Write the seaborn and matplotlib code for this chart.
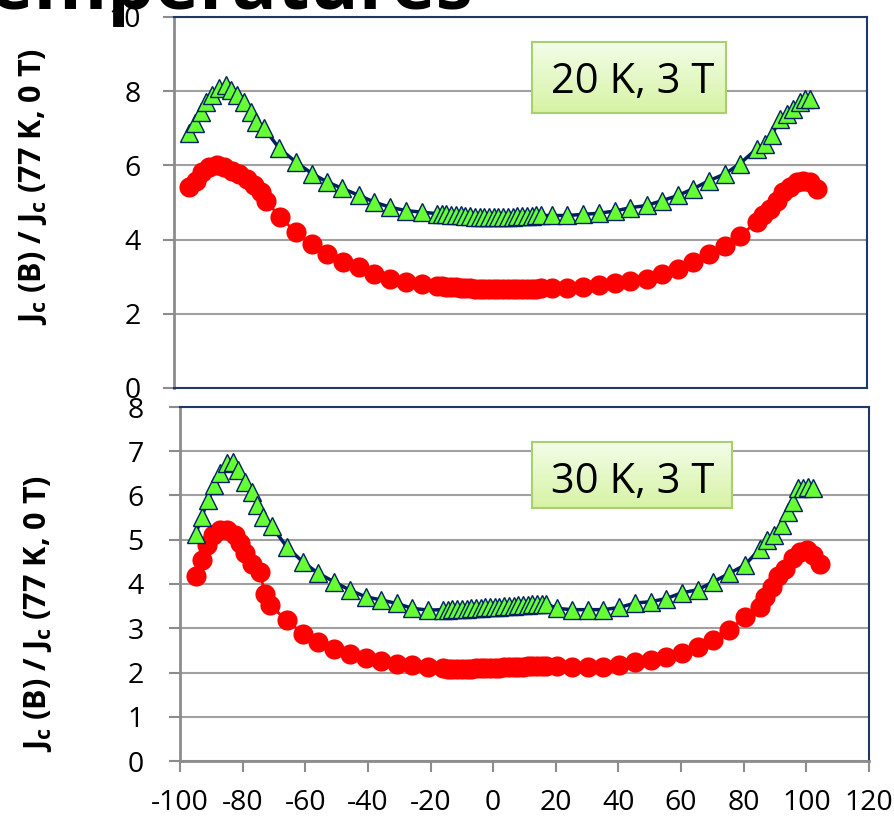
import numpy as np
import seaborn as sns
import matplotlib.pyplot as plt
from matplotlib.patches import Rectangle
from matplotlib.colors import LinearSegmentedColormap

# ---------------- data ----------------
# 20 K, 3 T  -- green triangles
ang_20_tri = [-95.2, -93.3, -91.5, -89.9, -88.0, -85.7, -83.6, -82.0, -80.0, -77.7, -75.6, -74.0,
              -71.4, -66.6, -61.3, -56.2, -51.3, -46.6, -41.2, -36.4, -31.3, -26.3, -21.3,
              -16.5, -15.0, -13.5, -12.0, -10.5, -9.0, -7.5, -6.0, -4.5, -3.0, -1.5, 0.0,
              1.5, 3.0, 4.5, 6.0, 7.5, 9.0, 10.5, 12.0, 13.5, 15.0, 16.5,
              20.0, 24.9, 29.8, 34.8, 39.9, 44.9, 50.0, 55.0, 60.0, 64.8, 69.9, 74.9, 79.7,
              85.0, 87.6, 89.7, 92.4, 94.5, 96.6, 98.7, 100.3, 101.9]
jc_20_tri = [6.86, 7.15, 7.43, 7.70, 7.90, 8.08, 8.16, 8.03, 7.90, 7.70, 7.44, 7.17,
             7.00, 6.46, 6.09, 5.78, 5.55, 5.38, 5.19, 5.01, 4.87, 4.78, 4.74,
             4.70, 4.69, 4.68, 4.67, 4.66, 4.65, 4.64, 4.63, 4.62, 4.62, 4.61, 4.61,
             4.61, 4.61, 4.62, 4.62, 4.62, 4.63, 4.63, 4.64, 4.64, 4.65, 4.65,
             4.65, 4.65, 4.68, 4.71, 4.77, 4.86, 4.92, 5.05, 5.19, 5.37, 5.59, 5.77, 6.05,
             6.45, 6.59, 6.81, 7.26, 7.39, 7.53, 7.71, 7.80, 7.80]

# 20 K, 3 T  -- red circles
ang_20_cir = [-95.2, -93.1, -91.0, -88.9, -86.2, -84.1, -81.5, -79.3, -76.7, -74.6, -72.4, -70.8,
              -66.3, -61.3, -56.2, -51.3, -46.3, -41.2, -36.4, -31.3, -26.3, -21.3,
              -16.5, -15.0, -13.5, -12.0, -10.5, -9.0, -7.5, -6.0, -4.5, -3.0, -1.5, 0.0,
              1.5, 3.0, 4.5, 6.0, 7.5, 9.0, 10.5, 12.0, 13.5, 15.0, 16.5,
              20.0, 24.9, 29.8, 34.8, 39.9, 44.9, 50.0, 55.0, 60.0, 64.8, 69.9, 74.9, 79.7,
              85.0, 87.0, 89.2, 91.3, 93.4, 95.5, 97.7, 99.8, 101.9, 104.0]
jc_20_cir = [5.41, 5.59, 5.82, 5.95, 6.00, 5.95, 5.86, 5.77, 5.64, 5.46, 5.28, 5.05,
             4.60, 4.20, 3.88, 3.61, 3.39, 3.25, 3.07, 2.93, 2.85, 2.80,
             2.75, 2.74, 2.73, 2.72, 2.71, 2.70, 2.69, 2.69, 2.68, 2.68, 2.67, 2.67,
             2.67, 2.67, 2.67, 2.67, 2.67, 2.68, 2.68, 2.68, 2.68, 2.68, 2.69,
             2.69, 2.69, 2.71, 2.78, 2.82, 2.89, 2.93, 3.07, 3.20, 3.39, 3.61, 3.84, 4.11,
             4.47, 4.65, 4.83, 5.05, 5.28, 5.41, 5.55, 5.59, 5.55, 5.37]

# 30 K, 3 T  -- green triangles
ang_30_tri = [-94.9, -93.1, -91.0, -89.0, -87.2, -85.1, -83.0, -81.4, -79.2, -77.1, -75.3, -73.4,
              -70.7, -65.9, -60.8, -55.8, -50.8, -45.7, -40.7, -35.8, -30.8, -25.8, -20.7,
              -16.0, -14.5, -13.0, -11.5, -10.0, -8.5, -7.0, -5.5, -4.0, -2.5, -1.0, 0.5,
              2.0, 3.5, 5.0, 6.5, 8.0, 9.5, 11.0, 12.5, 14.0, 15.5, 17.0,
              20.3, 25.1, 30.2, 35.2, 40.3, 45.3, 50.3, 55.2, 60.2, 65.3, 70.3, 75.4, 80.4,
              85.2, 87.3, 89.7, 92.1, 94.2, 95.8, 97.4, 99.0, 100.6, 102.2]
jc_30_tri = [5.14, 5.52, 5.90, 6.24, 6.50, 6.73, 6.76, 6.58, 6.31, 6.09, 5.79, 5.52,
             5.30, 4.84, 4.50, 4.24, 4.05, 3.86, 3.71, 3.64, 3.56, 3.45, 3.41,
             3.42, 3.42, 3.43, 3.43, 3.44, 3.44, 3.45, 3.45, 3.46, 3.47, 3.47, 3.48,
             3.49, 3.50, 3.50, 3.51, 3.52, 3.52, 3.53, 3.54, 3.54, 3.55, 3.55,
             3.45, 3.42, 3.42, 3.42, 3.47, 3.57, 3.60, 3.67, 3.80, 3.87, 4.05, 4.24, 4.43,
             4.80, 4.99, 5.11, 5.33, 5.63, 5.86, 6.16, 6.16, 6.19, 6.18]

# 30 K, 3 T  -- red circles
ang_30_cir = [-94.9, -93.1, -91.5, -89.4, -87.2, -84.9, -82.4, -80.8, -79.2, -77.1, -74.5, -72.9,
              -71.3, -65.9, -60.8, -55.8, -50.8, -45.7, -40.7, -35.8, -30.8, -25.8, -20.7,
              -16.0, -14.5, -13.0, -11.5, -10.0, -8.5, -7.0, -5.5, -4.0, -2.5, -1.0, 0.5,
              2.0, 3.5, 5.0, 6.5, 8.0, 9.5, 11.0, 12.5, 14.0, 15.5, 17.0,
              20.3, 25.1, 30.2, 35.2, 40.3, 45.3, 50.3, 55.2, 60.2, 65.3, 70.3, 75.4, 80.4,
              85.2, 86.8, 89.0, 91.1, 93.2, 95.8, 98.0, 100.1, 102.2, 104.3]
jc_30_cir = [4.17, 4.54, 4.88, 5.11, 5.22, 5.22, 5.11, 4.92, 4.69, 4.46, 4.27, 3.78,
             3.52, 3.18, 2.88, 2.68, 2.54, 2.42, 2.32, 2.26, 2.20, 2.16, 2.12,
             2.10, 2.09, 2.09, 2.09, 2.09, 2.09, 2.09, 2.10, 2.10, 2.10, 2.11, 2.11,
             2.11, 2.12, 2.12, 2.12, 2.13, 2.13, 2.14, 2.14, 2.14, 2.15, 2.15,
             2.14, 2.12, 2.12, 2.12, 2.16, 2.24, 2.29, 2.35, 2.43, 2.58, 2.73, 2.96, 3.26,
             3.49, 3.71, 3.94, 4.17, 4.35, 4.58, 4.73, 4.77, 4.66, 4.46]

x_ticks = [-100, -80, -60, -40, -20, 0, 20, 40, 60, 80, 100, 120]
y_ticks_top = [0, 2, 4, 6, 8, 10]
y_ticks_bot = [0, 1, 2, 3, 4, 5, 6, 7, 8]
box_labels = ['20 K, 3 T', '30 K, 3 T']
ylab = r'J$_{\mathbf{c}}$ (B) / J$_{\mathbf{c}}$ (77 K, 0 T)'

# ---------------- style ----------------
sns.set_style('white')
plt.rcParams['font.family'] = ['Open Sans', 'DejaVu Sans']
plt.rcParams['mathtext.fontset'] = 'custom'
plt.rcParams['mathtext.rm'] = 'Open Sans:bold'
plt.rcParams['mathtext.bf'] = 'Open Sans:bold'
plt.rcParams['mathtext.it'] = 'Open Sans:bold'
plt.rcParams['text.color'] = 'black'
plt.rcParams['axes.labelcolor'] = 'black'

NAVY = '#1f3864'
GRID = '#a0a0a0'
AXIS = '#8c8c8c'
box_cmap = LinearSegmentedColormap.from_list('box', ['#d6f3a4', '#f3fde8'])

fig = plt.figure(figsize=(8.94, 8.17), dpi=100)
ax1 = fig.add_axes([174/894, 1-388/817, 693/894, 371/817])
ax2 = fig.add_axes([180/894, 1-761/817, 689/894, 354/817])


def draw_panel(ax, xt, yt, xc, yc):
    sns.lineplot(x=xc, y=yc, ax=ax, sort=False, estimator=None, color='red', lw=2,
                 marker='o', markersize=14.5, markeredgewidth=0, zorder=3)
    sns.lineplot(x=xt, y=yt, ax=ax, sort=False, estimator=None, color='#002060', lw=2.5,
                 marker='^', markersize=12.5, markerfacecolor='#66ff33',
                 markeredgecolor='#002060', markeredgewidth=1, zorder=4)
    ax.set_xlim(-100, 120)
    ax.grid(axis='y', color=GRID, lw=1.5)
    ax.set_axisbelow(True)
    for s in ['top', 'right', 'bottom']:
        ax.spines[s].set_color(NAVY)
        ax.spines[s].set_linewidth(1.5)
    ax.spines['left'].set_color(AXIS)
    ax.spines['left'].set_linewidth(2)
    ax.tick_params(axis='y', direction='out', length=8, width=1.5, color=AXIS,
                   labelcolor='black', labelsize=20.5, pad=16, left=True)
    ax.set_xlabel('')


draw_panel(ax1, ang_20_tri, jc_20_tri, ang_20_cir, jc_20_cir)
draw_panel(ax2, ang_30_tri, jc_30_tri, ang_30_cir, jc_30_cir)

ax1.set_ylim(0, 10)
ax1.set_yticks(y_ticks_top)
ax1.set_xticks([])

ax2.set_ylim(0, 8)
ax2.set_yticks(y_ticks_bot)
ax2.set_xticks(x_ticks)
ax2.set_xticklabels([str(v) for v in x_ticks])
ax2.spines['bottom'].set_color(AXIS)
ax2.spines['bottom'].set_linewidth(2)
ax2.tick_params(axis='x', direction='out', length=8, width=1.5, color=AXIS,
                labelcolor='black', labelsize=20.5, pad=12, bottom=True)
ax2.tick_params(axis='y', pad=18)

# y labels
for ax, (lx, ly) in [(ax1, (-0.2035, 0.542)), (ax2, (-0.206, 0.418))]:
    ax.set_ylabel(ylab, fontsize=22, fontweight='bold')
    ax.yaxis.label.set_verticalalignment('center')
    ax.yaxis.set_label_coords(lx, ly)

# annotation boxes with a light green vertical gradient
grad = np.linspace(0, 1, 64).reshape(-1, 1)
for ax, txt, (bx, by, bw, bh), (tx, ty) in [
        (ax1, box_labels[0], (0.5166, 0.741, 0.280, 0.191), (0.662, 0.825)),
        (ax2, box_labels[1], (0.511, 0.715, 0.290, 0.186), (0.657, 0.788))]:
    xl, yl = ax.get_xlim(), ax.get_ylim()
    ax.imshow(grad, cmap=box_cmap, origin='lower', aspect='auto', interpolation='bilinear',
              extent=(bx, bx + bw, by, by + bh), transform=ax.transAxes, zorder=5)
    ax.set_xlim(xl)
    ax.set_ylim(yl)
    ax.add_patch(Rectangle((bx, by), bw, bh, transform=ax.transAxes, facecolor='none',
                           edgecolor='#a9cf6e', lw=1.5, zorder=5.5))
    ax.text(tx, ty, txt, transform=ax.transAxes, ha='center', va='center',
            fontsize=30, color='black', zorder=6)

# slide title, cut off at the top edge of the picture
fig.text(473/894, 1-9/817, 'Temperatures', ha='right', va='baseline',
         fontsize=54, fontweight='bold', color='black')

fig.savefig('out.png', dpi=100)
